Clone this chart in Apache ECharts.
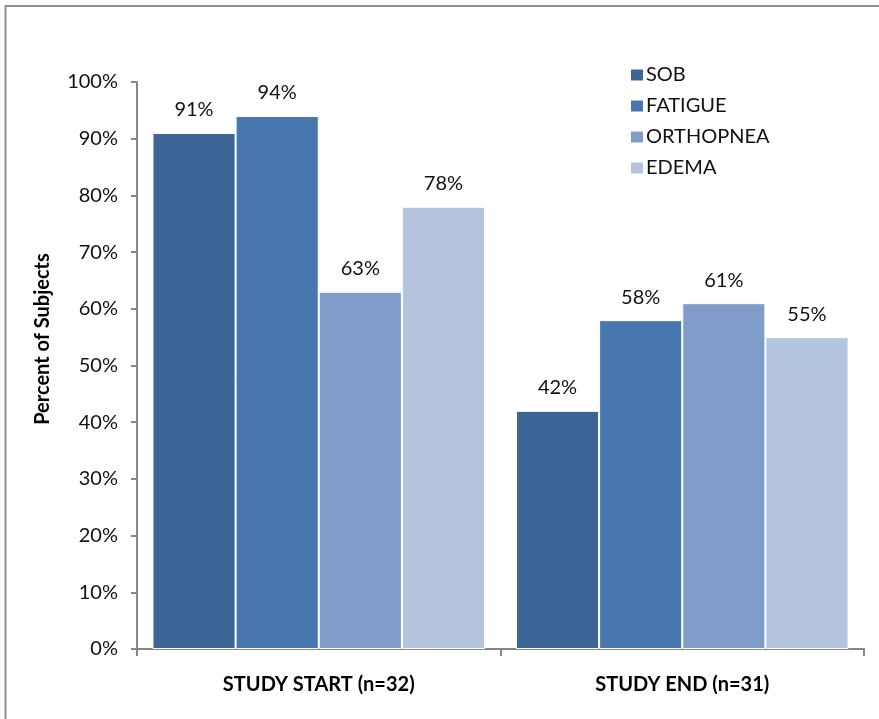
<!DOCTYPE html>
<html>
<head>
<meta charset="utf-8">
<script src="https://cdn.jsdelivr.net/npm/echarts@6/dist/echarts.min.js"></script>
<style>
  html, body { margin: 0; padding: 0; background: #fff; }
  #chart { width: 879px; height: 719px; }
</style>
</head>
<body>
<div id="chart"></div>
<script>
// Symptom prevalence at the start and end of the study
const categories = ['STUDY START (n=32)', 'STUDY END (n=31)'];
const seriesNames = ['SOB', 'FATIGUE', 'ORTHOPNEA', 'EDEMA'];
const sob = [91, 42];
const fatigue = [94, 58];
const orthopnea = [63, 61];
const edema = [78, 55];
const seriesValues = [sob, fatigue, orthopnea, edema];
const colors = ['#3D6596', '#4877B0', '#7F9DC8', '#B4C4DF'];

const FONT = 'Lato, "Open Sans", sans-serif';
const AXIS_GRAY = '#878787';

const chart = echarts.init(document.getElementById('chart'));

chart.setOption({
  animation: false,
  textStyle: { fontFamily: FONT },
  grid: { left: 137, right: 15, top: 82, bottom: 70 },
  legend: {
    orient: 'vertical',
    left: 624,
    top: 60,
    icon: 'rect',
    itemWidth: 14,
    itemHeight: 13,
    itemGap: 11,
    data: seriesNames,
    textStyle: { fontSize: 20, color: '#111', fontFamily: FONT, padding: [0, 0, 0, -3] }
  },
  graphic: [
    {
      type: 'rect',
      shape: { x: 5.5, y: 6, width: 900, height: 800 },
      style: { fill: 'none', stroke: '#8e8e8e', lineWidth: 2 },
      silent: true
    },
    {
      type: 'text',
      x: 43,
      y: 339,
      rotation: Math.PI / 2,
      style: {
        text: 'Percent of Subjects',
        fontFamily: FONT,
        fontSize: 20,
        fontWeight: 'bold',
        fill: '#000',
        align: 'center',
        verticalAlign: 'middle'
      }
    }
  ],
  xAxis: {
    type: 'category',
    data: categories,
    axisLine: { lineStyle: { color: AXIS_GRAY, width: 2 } },
    axisTick: { show: true, length: 7, lineStyle: { color: AXIS_GRAY, width: 2 } },
    axisLabel: { margin: 26, fontSize: 20, fontWeight: 'bold', color: '#000', fontFamily: FONT }
  },
  yAxis: {
    type: 'value',
    min: 0,
    max: 100,
    interval: 10,
    splitLine: { show: false },
    axisLine: { show: true, lineStyle: { color: AXIS_GRAY, width: 2 } },
    axisTick: { show: true, length: 6, lineStyle: { color: AXIS_GRAY, width: 2 } },
    axisLabel: { formatter: '{value}%', margin: 19, fontSize: 20, color: '#111', fontFamily: FONT }
  },
  series: seriesNames.map((name, i) => ({
    name,
    type: 'bar',
    data: seriesValues[i],
    barGap: '0%',
    barCategoryGap: '8.5%',
    itemStyle: { color: colors[i], borderColor: '#fff', borderWidth: 1 },
    label: {
      show: true,
      position: 'top',
      distance: 13,
      formatter: '{c}%',
      fontSize: 20,
      color: '#111',
      fontFamily: FONT
    }
  }))
});
</script>
</body>
</html>
